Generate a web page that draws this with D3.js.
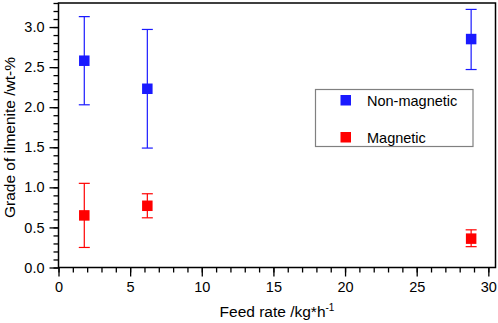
<!DOCTYPE html>
<html>
<head>
<meta charset="utf-8">
<script src="https://cdn.jsdelivr.net/npm/d3@7"></script>
<style>
  body { margin: 0; background: #fff; }
  svg { display: block; font-family: Arial, "Liberation Sans", sans-serif; }
</style>
</head>
<body>
<svg id="chart" width="498" height="323"></svg>
<script>
// Data
const feedRate = [1.8, 6.2, 28.8];
const nonMagnetic = [2.58, 2.23, 2.85];
const nonMagneticLow = [2.03, 1.49, 2.47];
const nonMagneticHigh = [3.13, 2.97, 3.22];
const magnetic = [0.65, 0.77, 0.36];
const magneticLow = [0.25, 0.62, 0.26];
const magneticHigh = [1.05, 0.92, 0.47];
const xTicks = [0, 5, 10, 15, 20, 25, 30];
const yTicks = [0.0, 0.5, 1.0, 1.5, 2.0, 2.5, 3.0];

const series = [
	{ name: "Non-magnetic", color: "#1a1aff", values: nonMagnetic, low: nonMagneticLow, high: nonMagneticHigh },
	{ name: "Magnetic", color: "#ff0000", values: magnetic, low: magneticLow, high: magneticHigh }
];

const margin = { top: 3, right: 2.5, bottom: 55.5, left: 58.5 };
const width = 498 - margin.left - margin.right;
const height = 323 - margin.top - margin.bottom;

const svg = d3.select("#chart");
const g = svg.append("g").attr("transform", "translate(" + margin.left + "," + margin.top + ")");

const x = d3.scaleLinear().domain([0, 30.5]).range([0, width]);
const y = d3.scaleLinear().domain([0, 3.3]).range([height, 0]);

// Minor ticks
const xAxisMinor = d3.axisBottom(x).tickValues(d3.range(0, 31, 1)).tickSize(5).tickFormat("");
const yAxisMinor = d3.axisLeft(y).tickValues(d3.range(0, 3.31, 0.1)).tickSize(5).tickFormat("");
g.append("g").attr("transform", "translate(0," + height + ")").call(xAxisMinor);
g.append("g").call(yAxisMinor);

// Major ticks + labels
const xAxis = d3.axisBottom(x).tickValues(xTicks).tickSize(9).tickPadding(5).tickFormat(d3.format("d"));
const yAxis = d3.axisLeft(y).tickValues(yTicks).tickSize(9).tickPadding(5).tickFormat(d3.format(".1f"));
g.append("g").attr("class", "x-axis").attr("transform", "translate(0," + height + ")").call(xAxis);
g.append("g").attr("class", "y-axis").call(yAxis);

g.selectAll(".domain").remove();
g.selectAll(".tick line").attr("stroke", "#000").attr("stroke-width", 1.3);
g.selectAll(".tick text").attr("fill", "#000").style("font-size", "14.5px");

// Frame
g.append("rect")
	.attr("width", width)
	.attr("height", height)
	.attr("fill", "none")
	.attr("stroke", "#000")
	.attr("stroke-width", 1.5);

// Error bars and markers
const capHalf = 5.5;
const markerSize = 10.5;
series.forEach(function(s) {
	const sg = g.append("g").attr("class", "series");
	const rows = feedRate.map(function(f, i) {
		return { x: f, y: s.values[i], lo: s.low[i], hi: s.high[i] };
	});
	sg.selectAll(".err").data(rows).enter().append("line")
		.attr("x1", function(d) { return x(d.x); })
		.attr("x2", function(d) { return x(d.x); })
		.attr("y1", function(d) { return y(d.lo); })
		.attr("y2", function(d) { return y(d.hi); })
		.attr("stroke", s.color).attr("stroke-width", 1.2);
	["lo", "hi"].forEach(function(k) {
		sg.selectAll(".cap-" + k).data(rows).enter().append("line")
			.attr("x1", function(d) { return x(d.x) - capHalf; })
			.attr("x2", function(d) { return x(d.x) + capHalf; })
			.attr("y1", function(d) { return y(d[k]); })
			.attr("y2", function(d) { return y(d[k]); })
			.attr("stroke", s.color).attr("stroke-width", 1.2);
	});
	sg.selectAll(".pt").data(rows).enter().append("rect")
		.attr("x", function(d) { return x(d.x) - markerSize / 2; })
		.attr("y", function(d) { return y(d.y) - markerSize / 2; })
		.attr("width", markerSize)
		.attr("height", markerSize)
		.attr("fill", s.color);
});

// Legend
const legend = svg.append("g").attr("transform", "translate(315.5,89.5)");
legend.append("rect")
	.attr("width", 157.5)
	.attr("height", 57)
	.attr("fill", "#fff")
	.attr("stroke", "#808080")
	.attr("stroke-width", 1.2);
series.forEach(function(s, i) {
	const ly = 10.5 + i * 37;
	legend.append("rect")
		.attr("x", 25).attr("y", ly - 5)
		.attr("width", 10.5).attr("height", 10.5)
		.attr("fill", s.color);
	legend.append("text")
		.attr("x", 51.5).attr("y", ly + 5.5)
		.style("font-size", "14.5px")
		.text(s.name);
});

// Axis titles
const xTitle = svg.append("text")
	.attr("x", margin.left + width / 2)
	.attr("y", 316.5)
	.attr("text-anchor", "middle")
	.style("font-size", "15.5px");
xTitle.append("tspan").text("Feed rate /kg*h");
xTitle.append("tspan").attr("dy", -6).style("font-size", "10px").text("-1");

svg.append("text")
	.attr("transform", "translate(15,137.5) rotate(-90)")
	.attr("text-anchor", "middle")
	.style("font-size", "15.5px")
	.text("Grade of ilmenite /wt-%");
</script>
</body>
</html>
